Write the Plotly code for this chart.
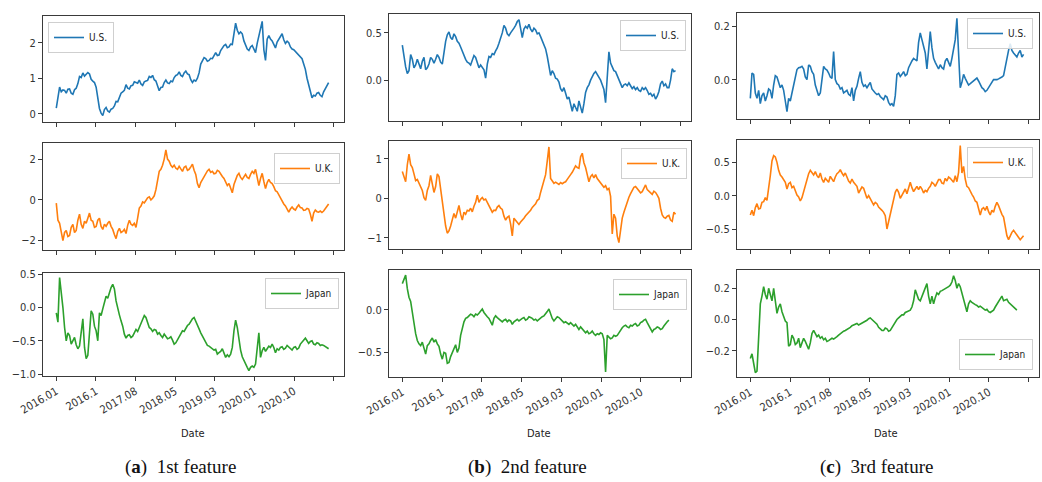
import numpy as np
import plotly.graph_objects as go

# ---------------- data ----------------
TICK_DAYS = [0, 200, 400, 600, 800, 1000, 1200, 1400]
TICK_LABELS = ["2016.01", "2016.1", "2017.08", "2018.05", "2019.03", "2020.01", "2020.10", ""]
SAMPLE_DAYS = 8.38  # spacing between sampled observations (trading days)

SERIES_NAMES = ["U.S.", "U.K.", "Japan"]
CAPTIONS = ["<b>a</b>", "<b>b</b>", "<b>c</b>"]
CAPTION_TEXT = ["1st feature", "2nd feature", "3rd feature"]

A_US = [0.16, 0.42, 0.75, 0.62, 0.67, 0.66, 0.58, 0.69, 0.70, 0.58,
        0.55, 0.68, 0.72, 0.85, 1.05, 1.02, 1.15, 1.06, 1.10, 1.16,
        1.12, 0.97, 0.92, 0.88, 0.75, 0.50, 0.15, 0.02, -0.05, 0.12,
        0.18, 0.08, 0.05, 0.13, 0.15, 0.22, 0.35, 0.34, 0.45, 0.58,
        0.62, 0.66, 0.82, 0.72, 0.70, 0.79, 0.80, 0.90, 0.88, 0.86,
        0.95, 0.84, 0.80, 0.90, 0.92, 0.94, 1.05, 1.02, 1.08, 0.96,
        0.92, 0.75, 0.65, 0.74, 0.75, 0.88, 0.95, 0.87, 0.85, 0.92,
        0.90, 1.02, 1.08, 1.10, 1.18, 1.08, 1.05, 1.15, 1.20, 1.12,
        1.10, 0.96, 0.88, 0.95, 0.92, 1.00, 1.15, 1.40, 1.50, 1.58,
        1.55, 1.48, 1.50, 1.56, 1.55, 1.66, 1.72, 1.64, 1.65, 1.78,
        1.85, 1.92, 1.95, 1.86, 1.88, 1.96, 1.95, 2.30, 2.55, 2.35,
        2.25, 2.30, 2.25, 2.05, 1.95, 1.82, 1.78, 1.88, 1.92, 1.80,
        1.72, 1.98, 2.20, 2.45, 2.60, 1.80, 1.50, 2.10, 2.20, 2.10,
        2.05, 1.95, 1.85, 2.02, 2.10, 2.18, 2.25, 2.08, 1.98, 2.04,
        2.00, 1.88, 1.82, 1.80, 1.75, 1.68, 1.62, 1.60, 1.55, 1.40,
        1.25, 1.00, 0.80, 0.60, 0.45, 0.52, 0.50, 0.58, 0.60, 0.52,
        0.48, 0.62, 0.70, 0.78, 0.88]
A_UK = [-0.16, -1.0, -1.15, -1.7, -2.0, -1.6, -1.5, -1.8, -1.75, -1.35,
        -1.2, -1.6, -1.5, -1.0, -0.7, -1.2, -1.4, -1.05, -1.15, -0.9,
        -0.65, -1.0, -1.05, -1.35, -1.3, -1.0, -0.9, -1.3, -1.45, -1.2,
        -1.3, -1.15, -1.05, -1.3, -1.45, -1.7, -1.9, -1.55, -1.4, -1.6,
        -1.55, -1.45, -1.65, -1.25, -1.0, -1.2, -1.25, -1.15, -1.35, -0.9,
        -0.4, -0.3, -0.1, -0.15, 0.0, 0.1, 0.15, 0.0, 0.08, 0.2,
        0.5, 0.95, 1.4, 1.5, 1.7, 2.0, 2.45, 2.0, 1.9, 1.7,
        1.6, 1.7, 1.55, 1.5, 1.65, 1.52, 1.4, 1.6, 1.65, 1.45,
        1.5, 1.62, 1.75, 1.45, 1.25, 0.8, 0.6, 0.85, 1.0, 1.15,
        1.3, 1.42, 1.5, 1.35, 1.4, 1.28, 1.3, 1.45, 1.4, 1.25,
        1.15, 1.05, 0.9, 0.7, 0.8, 0.55, 0.35, 0.75, 1.0, 1.2,
        1.3, 1.1, 1.0, 1.15, 1.25, 1.1, 1.05, 1.25, 1.4, 1.3,
        1.5, 1.1, 0.7, 1.05, 1.3, 0.9, 0.55, 0.85, 1.0, 0.85,
        0.8, 0.65, 0.45, 0.4, 0.25, 0.05, -0.05, -0.2, -0.3, -0.42,
        -0.6, -0.45, -0.35, -0.45, -0.5, -0.35, -0.25, -0.38, -0.4, -0.52,
        -0.5, -0.42, -0.45, -0.7, -1.05, -0.65, -0.5, -0.58, -0.6, -0.55,
        -0.62, -0.55, -0.45, -0.3, -0.2]
A_JP = [-0.08, -0.22, 0.45, 0.25, 0.0, -0.3, -0.5, -0.38, -0.42, -0.55,
        -0.5, -0.45, -0.56, -0.62, -0.58, -0.4, -0.17, -0.6, -0.77, -0.72,
        -0.3, -0.05, -0.1, -0.28, -0.35, -0.5, -0.08, -0.12, -0.02, 0.1,
        0.17, 0.14, 0.23, 0.3, 0.35, 0.28, 0.1, -0.02, -0.11, -0.2,
        -0.28, -0.4, -0.46, -0.42, -0.41, -0.45, -0.43, -0.38, -0.33, -0.36,
        -0.3, -0.24, -0.2, -0.12, -0.15, -0.24, -0.3, -0.32, -0.36, -0.33,
        -0.34, -0.4, -0.38, -0.42, -0.45, -0.4, -0.43, -0.47, -0.46, -0.44,
        -0.49, -0.55, -0.53, -0.48, -0.45, -0.38, -0.35, -0.36, -0.31, -0.27,
        -0.25, -0.2, -0.17, -0.15, -0.2, -0.26, -0.32, -0.38, -0.43, -0.49,
        -0.53, -0.57, -0.58, -0.6, -0.61, -0.64, -0.63, -0.7, -0.68, -0.66,
        -0.62, -0.7, -0.75, -0.71, -0.74, -0.7, -0.6, -0.35, -0.19, -0.3,
        -0.5, -0.64, -0.74, -0.8, -0.86, -0.9, -0.95, -0.9, -0.88, -0.9,
        -0.85, -0.55, -0.38, -0.75, -0.65, -0.6, -0.66, -0.62, -0.58, -0.6,
        -0.55, -0.6, -0.68, -0.62, -0.64, -0.6, -0.59, -0.63, -0.61, -0.57,
        -0.59, -0.62, -0.64, -0.6, -0.59, -0.63, -0.61, -0.55, -0.52, -0.48,
        -0.46, -0.5, -0.54, -0.51, -0.5, -0.55, -0.56, -0.53, -0.54, -0.57,
        -0.56, -0.57, -0.59, -0.6, -0.62]

B_US = [0.37, 0.25, 0.14, 0.07, 0.10, 0.27, 0.22, 0.13, 0.16, 0.22,
        0.18, 0.12, 0.20, 0.24, 0.11, 0.13, 0.17, 0.24, 0.22, 0.18,
        0.22, 0.27, 0.24, 0.19, 0.17, 0.30, 0.41, 0.48, 0.51, 0.45,
        0.43, 0.49, 0.46, 0.41, 0.39, 0.35, 0.30, 0.25, 0.22, 0.19,
        0.18, 0.16, 0.21, 0.26, 0.24, 0.17, 0.13, 0.16, 0.14, 0.11,
        0.02, 0.17, 0.25, 0.24, 0.28, 0.27, 0.31, 0.34, 0.39, 0.44,
        0.50, 0.58, 0.55, 0.49, 0.47, 0.50, 0.52, 0.55, 0.58, 0.62,
        0.64, 0.56, 0.45, 0.54, 0.57, 0.55, 0.59, 0.54, 0.51, 0.55,
        0.53, 0.49, 0.50, 0.46, 0.41, 0.38, 0.33, 0.25, 0.14, 0.05,
        0.10, 0.07, 0.02, 0.01, -0.02, -0.09, -0.12, -0.08, -0.14, -0.20,
        -0.18, -0.26, -0.33, -0.25, -0.30, -0.33, -0.22, -0.28, -0.35, -0.25,
        -0.13, -0.08, -0.05, 0.0, 0.04, 0.07, 0.09, 0.06, 0.04, 0.0,
        -0.05, -0.10, -0.24, 0.05, 0.30, 0.18, 0.13, 0.10, 0.09, 0.05,
        0.00, -0.05, -0.08, -0.05, -0.04, -0.06, -0.03, -0.06, -0.09, -0.07,
        -0.10, -0.08, -0.11, -0.12, -0.08, -0.10, -0.08, -0.11, -0.15, -0.14,
        -0.17, -0.15, -0.20, -0.17, -0.12, -0.04, -0.01, -0.06, -0.04, -0.08,
        -0.08, 0.0, 0.12, 0.09, 0.10]
B_UK = [0.68, 0.55, 0.42, 0.85, 1.12, 0.85, 0.78, 0.62, 0.45, 0.48,
        0.38, 0.30, 0.20, 0.02, -0.05, 0.20, 0.32, 0.58, 0.35, 0.15,
        0.30, 0.62, 0.55, 0.20, -0.10, -0.45, -0.70, -0.88, -0.82, -0.70,
        -0.50, -0.38, -0.50, -0.30, -0.18, -0.40, -0.55, -0.35, -0.40, -0.30,
        -0.32, -0.25, -0.34, -0.20, -0.10, 0.08, -0.10, -0.02, 0.02, -0.04,
        -0.02, -0.10, -0.18, -0.28, -0.35, -0.30, -0.31, -0.22, -0.18, -0.25,
        -0.28, -0.45, -0.55, -0.48, -0.45, -0.65, -0.95, -0.50, -0.55, -0.62,
        -0.66, -0.60, -0.56, -0.50, -0.44, -0.40, -0.35, -0.30, -0.23, -0.18,
        -0.14, -0.05, -0.02, 0.15, 0.30, 0.45, 0.60, 0.95, 1.30, 0.50,
        0.45, 0.38, 0.41, 0.38, 0.35, 0.40, 0.37, 0.40, 0.42, 0.48,
        0.53, 0.60, 0.66, 0.75, 0.82, 0.78, 0.76, 1.05, 1.14, 0.90,
        0.78, 0.60, 0.42, 0.55, 0.60, 0.52, 0.60, 0.50, 0.44, 0.38,
        0.34, 0.28, 0.32, 0.22, 0.25, 0.05, -0.90, -0.40, -0.50, -0.95,
        -1.12, -0.75, -0.50, -0.35, -0.21, -0.10, 0.03, 0.12, 0.20, 0.28,
        0.30, 0.24, 0.20, 0.14, 0.17, 0.25, 0.34, 0.22, 0.18, 0.13,
        0.10, 0.18, 0.15, 0.08, 0.00, -0.25, -0.42, -0.48, -0.50, -0.45,
        -0.43, -0.55, -0.58, -0.35, -0.40]
B_JP = [0.31, 0.36, 0.41, 0.25, 0.15, 0.10, -0.03, -0.18, -0.28, -0.36,
        -0.40, -0.42, -0.38, -0.45, -0.52, -0.42, -0.40, -0.36, -0.33, -0.38,
        -0.35, -0.40, -0.43, -0.52, -0.58, -0.50, -0.51, -0.63, -0.62, -0.55,
        -0.50, -0.46, -0.41, -0.50, -0.45, -0.30, -0.22, -0.14, -0.10, -0.09,
        -0.07, -0.05, -0.06, -0.08, -0.05, -0.06, -0.04, -0.02, 0.01, -0.03,
        -0.06, -0.08, -0.10, -0.14, -0.18, -0.10, -0.07, -0.09, -0.11, -0.13,
        -0.14, -0.12, -0.11, -0.14, -0.12, -0.13, -0.17, -0.14, -0.12, -0.11,
        -0.13, -0.11, -0.10, -0.09, -0.12, -0.11, -0.08, -0.09, -0.10, -0.12,
        -0.11, -0.13, -0.11, -0.09, -0.08, -0.07, -0.05, -0.02, 0.01, -0.06,
        -0.10, -0.13, -0.11, -0.08, -0.09, -0.11, -0.12, -0.15, -0.14, -0.16,
        -0.17, -0.15, -0.17, -0.19, -0.17, -0.20, -0.23, -0.20, -0.22, -0.25,
        -0.27, -0.25, -0.28, -0.27, -0.25, -0.28, -0.30, -0.28, -0.29, -0.27,
        -0.28, -0.35, -0.73, -0.30, -0.32, -0.34, -0.33, -0.30, -0.31, -0.30,
        -0.27, -0.23, -0.21, -0.19, -0.18, -0.20, -0.21, -0.18, -0.19, -0.17,
        -0.16, -0.19, -0.18, -0.15, -0.14, -0.12, -0.11, -0.15, -0.19, -0.24,
        -0.26, -0.23, -0.22, -0.20, -0.21, -0.23, -0.22, -0.19, -0.16, -0.14,
        -0.12]

C_US = [-0.07, 0.025, 0.02, -0.05, -0.07, -0.04, -0.09, -0.06, -0.05, -0.08,
        -0.06, -0.035, -0.04, -0.07, -0.02, 0.015, 0.01, -0.015, -0.03, -0.02,
        -0.04, -0.08, -0.12, -0.07, -0.08, -0.05, -0.02, 0.01, 0.038, 0.045,
        0.046, 0.05, 0.04, 0.01, 0.0, 0.055, 0.05, 0.03, 0.02, -0.02,
        -0.04, -0.06, -0.05, 0.01, 0.05, 0.04, 0.036, 0.025, 0.01, 0.005,
        0.105, 0.0, -0.015, -0.02, -0.035, -0.03, -0.05, -0.045, -0.04, -0.055,
        -0.06, -0.03, -0.08, -0.04, -0.025, 0.005, 0.03, -0.01, -0.025, -0.02,
        -0.03, -0.02, -0.01, -0.035, -0.045, -0.05, -0.056, -0.052, -0.063, -0.068,
        -0.075, -0.06, -0.065, -0.085, -0.095, -0.09, -0.10, -0.06, 0.02, 0.025,
        0.012, 0.02, 0.03, 0.015, 0.02, 0.045, 0.06, 0.07, 0.08, 0.075,
        0.07, 0.14, 0.175, 0.15, 0.12, 0.10, 0.04, 0.10, 0.18, 0.12,
        0.08, 0.065, 0.05, 0.04, 0.056, 0.045, 0.04, 0.07, 0.08, 0.065,
        0.05, 0.08, 0.11, 0.15, 0.23, 0.10, -0.03, -0.01, 0.02, 0.005,
        -0.01, -0.02, -0.015, -0.01, -0.005, 0.0, 0.006, -0.005, -0.02, -0.03,
        -0.035, -0.045, -0.04, -0.03, -0.02, -0.01, 0.0, 0.0, 0.0, 0.003,
        0.005, 0.01, 0.015, 0.05, 0.08, 0.11, 0.135, 0.11, 0.10, 0.09,
        0.085, 0.10, 0.11, 0.085, 0.095]
C_UK = [-0.29, -0.22, -0.30, -0.18, -0.12, -0.20, -0.19, -0.10, -0.09, -0.03,
        -0.07, 0.10, 0.30, 0.52, 0.60, 0.58, 0.50, 0.38, 0.31, 0.28,
        0.23, 0.20, 0.10, 0.18, 0.20, 0.12, 0.14, 0.08, 0.01, -0.02,
        -0.08, -0.03, 0.06, 0.18, 0.26, 0.33, 0.38, 0.34, 0.31, 0.36,
        0.30, 0.27, 0.34, 0.25, 0.20, 0.26, 0.23, 0.20, 0.29, 0.24,
        0.21, 0.28, 0.33, 0.35, 0.39, 0.34, 0.30, 0.34, 0.28, 0.22,
        0.19, 0.25, 0.20, 0.16, 0.14, 0.04, 0.08, 0.13, 0.11, 0.03,
        -0.04, 0.0, -0.05, -0.08, -0.14, -0.10, -0.12, -0.17, -0.19, -0.22,
        -0.25, -0.30, -0.50, -0.38, -0.30, -0.15, -0.04, 0.05, 0.10, 0.05,
        -0.04, 0.0, 0.06, 0.10, 0.03, 0.12, 0.20, 0.12, 0.06, 0.10,
        0.14, 0.09, 0.14, 0.10, 0.04, 0.08, 0.06, 0.11, 0.14, 0.20,
        0.18, 0.14, 0.18, 0.24, 0.24, 0.19, 0.18, 0.26, 0.22, 0.28,
        0.26, 0.23, 0.20, 0.30, 0.21, 0.35, 0.75, 0.34, 0.44, 0.25,
        0.14, 0.12, 0.06, 0.02, -0.02, -0.08, -0.10, -0.20, -0.29, -0.20,
        -0.18, -0.22, -0.16, -0.24, -0.29, -0.22, -0.25, -0.16, -0.10, -0.15,
        -0.22, -0.28, -0.32, -0.48, -0.60, -0.66, -0.60, -0.55, -0.52, -0.56,
        -0.59, -0.63, -0.66, -0.63, -0.60]
C_JP = [-0.25, -0.22, -0.28, -0.34, -0.33, -0.15, 0.10, 0.15, 0.21, 0.16,
        0.13, 0.20, 0.15, 0.12, 0.20, 0.10, 0.04, 0.08, 0.10, 0.05,
        0.02, -0.01, -0.02, -0.17, -0.16, -0.10, -0.12, -0.16, -0.15, -0.12,
        -0.18, -0.15, -0.12, -0.14, -0.16, -0.19, -0.15, -0.09, -0.07, -0.09,
        -0.11, -0.10, -0.12, -0.11, -0.13, -0.12, -0.14, -0.135, -0.13, -0.12,
        -0.125, -0.12, -0.11, -0.10, -0.09, -0.085, -0.075, -0.07, -0.065, -0.055,
        -0.05, -0.04, -0.035, -0.03, -0.025, -0.035, -0.03, -0.02, -0.015, -0.01,
        -0.005, 0.005, 0.01, 0.0, -0.01, -0.02, -0.03, -0.05, -0.06, -0.07,
        -0.07, -0.055, -0.06, -0.075, -0.07, -0.05, -0.03, -0.01, 0.0, 0.01,
        0.02, 0.03, 0.03, 0.045, 0.05, 0.055, 0.06, 0.08, 0.12, 0.19,
        0.16, 0.13, 0.12, 0.15, 0.18, 0.21, 0.23, 0.15, 0.10, 0.15,
        0.10, 0.14, 0.17, 0.16, 0.18, 0.185, 0.19, 0.195, 0.20, 0.21,
        0.22, 0.24, 0.28, 0.25, 0.20, 0.23, 0.21, 0.17, 0.14, 0.10,
        0.05, 0.10, 0.12, 0.11, 0.10, 0.095, 0.09, 0.08, 0.085, 0.075,
        0.07, 0.06, 0.065, 0.05, 0.045, 0.05, 0.06, 0.08, 0.10, 0.12,
        0.14, 0.15, 0.12, 0.125, 0.13, 0.11, 0.10, 0.085, 0.075, 0.07,
        0.06]

# ---------------- styling / layout ----------------
W, H = 1042, 482
COLORS = ["#1f77b4", "#ff7f0e", "#2ca02c"]
FONT = "DejaVu Sans Condensed, Liberation Sans Narrow, DejaVu Sans, sans-serif"
AX = "#3a3a3a"

COL_PX = [(43, 344), (389, 691), (737, 1039)]
ROW_PX = [
    [(16, 122), (143, 250), (273, 376)],
    [(14, 121), (141, 249), (270, 377)],
    [(13, 119), (140, 249), (270, 377)],
]
Y_RANGES = [
    [[-0.23, 2.75], [-2.46, 2.79], [-1.03, 0.52]],
    [[-0.433, 0.70], [-1.28, 1.45], [-0.79, 0.47]],
    [[-0.1475, 0.25], [-0.80, 0.835], [-0.368, 0.317]],
]
Y_TICKS = [
    [([0, 1, 2], ""), ([-2, 0, 2], ""), ([-1.0, -0.5, 0.0, 0.5], ".1f")],
    [([0.0, 0.5], ".1f"), ([-1, 0, 1], ""), ([-0.5, 0.0], ".1f")],
    [([0.0, 0.2], ".1f"), ([-0.5, 0.0, 0.5], ".1f"), ([-0.2, 0.0, 0.2], ".1f")],
]
DATA = [[A_US, A_UK, A_JP], [B_US, B_UK, B_JP], [C_US, C_UK, C_JP]]
LEG = [
    [(48, 22, "left", "top"), (340, 153, "right", "top"), (339, 278, "right", "top")],
    [(686, 20, "right", "top"), (687, 148, "right", "top"), (687, 279, "right", "top")],
    [(1033, 18, "right", "top"), (1033, 147, "right", "top"), (1033, 370, "right", "bottom")],
]
X_RANGE = [-67, 1452]

fig = go.Figure()
layout = dict(
    template="none",
    width=W, height=H, margin=dict(l=0, r=0, t=0, b=0, autoexpand=False),
    paper_bgcolor="white", plot_bgcolor="white",
    font=dict(family=FONT, size=11, color="#333"),
    showlegend=True,
)

idx = 0
for c in range(3):
    for r in range(3):
        idx += 1
        sfx = "" if idx == 1 else str(idx)
        vals = DATA[c][r]
        x = np.arange(len(vals)) * SAMPLE_DAYS
        legname = "legend" if idx == 1 else f"legend{idx}"
        fig.add_trace(go.Scatter(
            x=x, y=vals, mode="lines", name=SERIES_NAMES[r],
            line=dict(color=COLORS[r], width=1.6),
            xaxis="x" + sfx, yaxis="y" + sfx, legend=legname,
            hoverinfo="skip",
        ))
        l, rr = COL_PX[c]
        t, b = ROW_PX[c][r]
        tv, fmt = Y_TICKS[c][r]
        layout["xaxis" + sfx] = dict(
            domain=[l / W, rr / W], anchor="y" + sfx, range=X_RANGE,
            tickvals=TICK_DAYS, ticktext=TICK_LABELS, automargin=False,
            showticklabels=(r == 2), tickangle=-30,
            ticks="outside", ticklen=4, tickcolor=AX, tickwidth=1,
            showline=True, linecolor=AX, linewidth=1, mirror=True,
            showgrid=False, zeroline=False,
            tickfont=dict(family=FONT, size=11, color="#333"),
        )
        layout["yaxis" + sfx] = dict(
            domain=[1 - b / H, 1 - t / H], anchor="x" + sfx,
            range=Y_RANGES[c][r], tickvals=tv, tickformat=fmt, automargin=False,
            ticks="outside", ticklen=4, tickcolor=AX, tickwidth=1,
            showline=True, linecolor=AX, linewidth=1, mirror=True,
            showgrid=False, zeroline=False,
            tickfont=dict(family=FONT, size=11, color="#333"),
        )
        lx, ly, xa, ya = LEG[c][r]
        layout[legname] = dict(
            x=lx / W, y=1 - ly / H, xanchor=xa, yanchor=ya,
            xref="paper", yref="paper",
            bgcolor="rgba(255,255,255,0.85)", bordercolor="#cfcfcf", borderwidth=1,
            font=dict(family=FONT, size=10, color="#222"),
            itemwidth=30,
        )

annotations = []
DATE_X = [193, 539, 886]
CAP_X = [180, 527, 876]
for c in range(3):
    annotations.append(dict(
        text="Date", x=DATE_X[c] / W, y=1 - 433 / H, xref="paper", yref="paper",
        showarrow=False, font=dict(family=FONT, size=11, color="#222"),
        xanchor="center", yanchor="middle",
    ))
    annotations.append(dict(
        text=f"({CAPTIONS[c]})  {CAPTION_TEXT[c]}", x=CAP_X[c] / W, y=1 - 467 / H,
        xref="paper", yref="paper", showarrow=False,
        font=dict(family="Liberation Serif, DejaVu Serif, serif", size=19, color="#111"),
        xanchor="center", yanchor="middle",
    ))
layout["annotations"] = annotations
fig.update_layout(**layout)
fig.write_html(
    "out.html",
    config={"displayModeBar": False},
    post_script="document.body.style.margin='0';document.body.style.padding='0';"
                "document.documentElement.style.overflow='hidden';",
)
